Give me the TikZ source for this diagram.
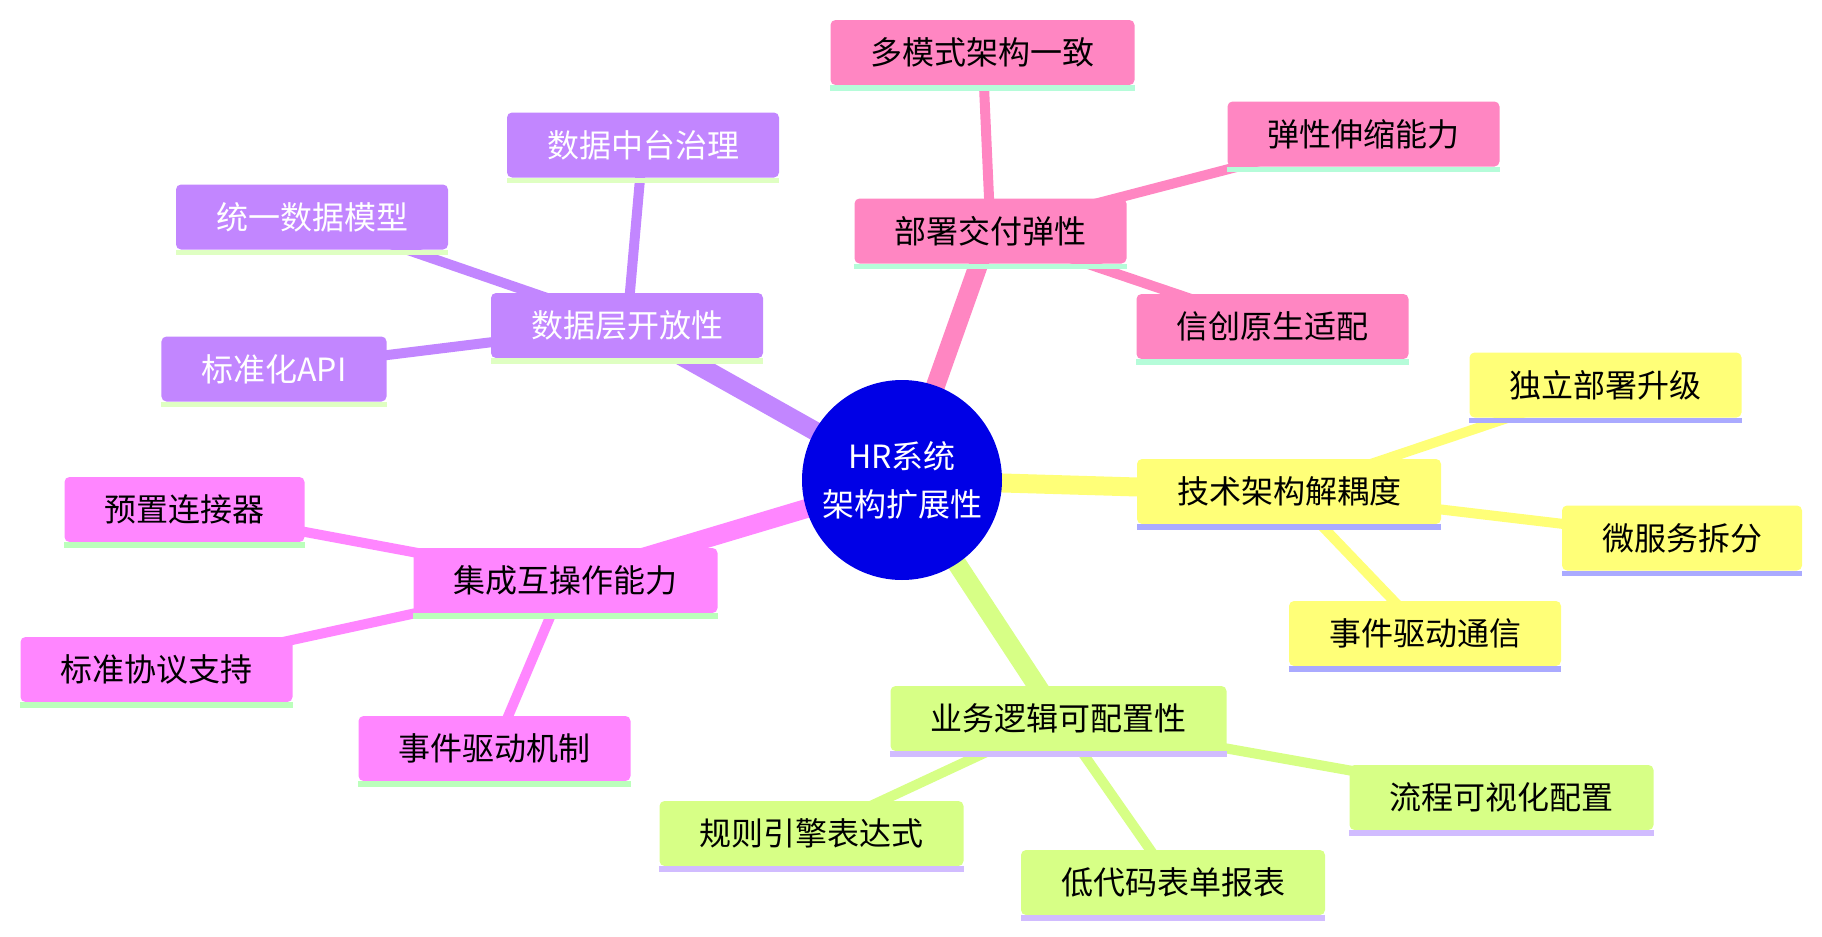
\documentclass[tikz,border=0pt]{standalone}
\usepackage{fontspec}
\newfontfamily\cjk{Noto Sans CJK SC}
\pgfdeclarelayer{bg}
\pgfsetlayers{bg,main}
\definecolor{rootblue}{RGB}{0,0,230}
\definecolor{cpink}{HTML}{FF86C2}
\definecolor{cpurple}{HTML}{C286FF}
\definecolor{cmag}{HTML}{FF86FF}
\definecolor{cyel}{HTML}{FFFF78}
\definecolor{cgreen}{HTML}{D7FF86}
\definecolor{upink}{HTML}{B5FCD9}
\definecolor{upurple}{HTML}{DFFFC2}
\definecolor{umag}{HTML}{BBFFBB}
\definecolor{uyel}{HTML}{AAAAFF}
\definecolor{ugreen}{HTML}{D1BCFF}
\begin{document}
\begin{tikzpicture}[x=0.5pt,y=-0.5pt,
  box/.style={rounded corners=2.5pt, minimum height=32.5pt, inner xsep=20pt, inner ysep=0pt,
    font=\cjk\fontsize{16}{20}\selectfont, text=black},
  pinkbox/.style={box, fill=cpink},
  purplebox/.style={box, fill=cpurple, text=white},
  magbox/.style={box, fill=cmag},
  yelbox/.style={box, fill=cyel},
  greenbox/.style={box, fill=cgreen},
  rootnode/.style={circle, fill=rootblue, minimum size=100pt, inner sep=0pt, text=white,
    align=center, font=\cjk\fontsize{16}{24}\selectfont},
  mainedge/.style={line width=9.5pt},
  subedge/.style={line width=5pt}]
\useasboundingbox (0,0) rectangle (1822,937);

\node[rootnode] (root) at (902,480) {HR系统\\架构扩展性};

% pink
\node[pinkbox] (p0) at (990.5,231) {部署交付弹性};
\node[pinkbox] (p1) at (982.5,52.5) {多模式架构一致};
\node[pinkbox] (p2) at (1363.5,134) {弹性伸缩能力};
\node[pinkbox] (p3) at (1272.5,326.5) {信创原生适配};
% purple
\node[purplebox] (d0) at (627,325.5) {数据层开放性};
\node[purplebox] (d1) at (643,145) {数据中台治理};
\node[purplebox] (d2) at (312,217) {统一数据模型};
\node[purplebox] (d3) at (274,369) {标准化API};
% magenta
\node[magbox] (m0) at (565.5,580.5) {集成互操作能力};
\node[magbox] (m1) at (184.5,509.5) {预置连接器};
\node[magbox] (m2) at (156.5,669.5) {标准协议支持};
\node[magbox] (m3) at (494.5,748.5) {事件驱动机制};
% yellow
\node[yelbox] (y0) at (1289,491.5) {技术架构解耦度};
\node[yelbox] (y1) at (1605.5,385) {独立部署升级};
\node[yelbox] (y2) at (1682,538) {微服务拆分};
\node[yelbox] (y3) at (1425,633.5) {事件驱动通信};
% green
\node[greenbox] (g0) at (1058.5,718.5) {业务逻辑可配置性};
\node[greenbox] (g1) at (1501.5,797.5) {流程可视化配置};
\node[greenbox] (g2) at (811.5,833.5) {规则引擎表达式};
\node[greenbox] (g3) at (1173,882.5) {低代码表单报表};

% underlines
\foreach \n/\c in {p0/upink,p1/upink,p2/upink,p3/upink,
                   d0/upurple,d1/upurple,d2/upurple,d3/upurple,
                   m0/umag,m1/umag,m2/umag,m3/umag,
                   y0/uyel,y1/uyel,y2/uyel,y3/uyel,
                   g0/ugreen,g1/ugreen,g2/ugreen,g3/ugreen}
  \fill[\c] (\n.south west) rectangle ([yshift=-2.75pt]\n.south east);

\begin{pgfonlayer}{bg}
  \draw[mainedge, cpink] (root.center) -- (p0.center);
  \draw[mainedge, cpurple] (root.center) -- (d0.center);
  \draw[mainedge, cmag] (root.center) -- (m0.center);
  \draw[mainedge, cyel] (root.center) -- (y0.center);
  \draw[mainedge, cgreen] (root.center) -- (g0.center);
  \foreach \a/\b/\c in {p0/p1/cpink,p0/p2/cpink,p0/p3/cpink,
                        d0/d1/cpurple,d0/d2/cpurple,d0/d3/cpurple,
                        m0/m1/cmag,m0/m2/cmag,m0/m3/cmag,
                        y0/y1/cyel,y0/y2/cyel,y0/y3/cyel,
                        g0/g1/cgreen,g0/g2/cgreen,g0/g3/cgreen}
    \draw[subedge, \c] (\a.center) -- (\b.center);
\end{pgfonlayer}
\end{tikzpicture}
\end{document}
